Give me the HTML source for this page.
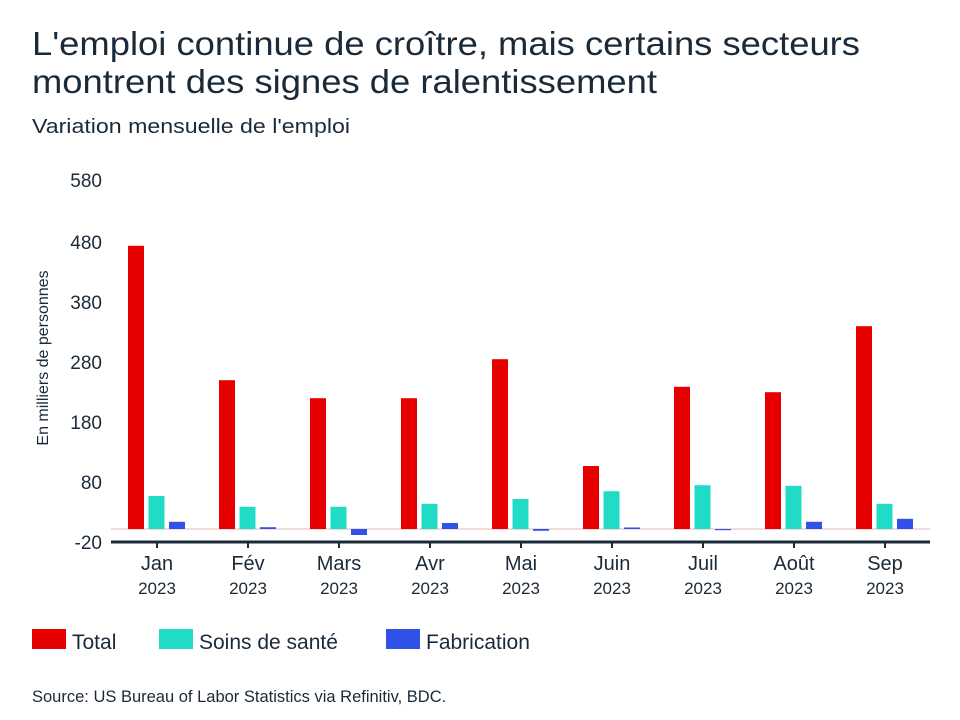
<!DOCTYPE html>
<html><head><meta charset="utf-8"><style>body{margin:0;background:#fff}svg{display:block}text{font-family:"Liberation Sans",sans-serif;fill:#1b2a38}</style></head>
<body>
<svg width="960" height="720" viewBox="0 0 960 720" xmlns="http://www.w3.org/2000/svg">
<text x="32" y="55" font-size="33" textLength="828" lengthAdjust="spacingAndGlyphs">L'emploi continue de croître, mais certains secteurs</text>
<text x="32" y="93" font-size="33" textLength="625" lengthAdjust="spacingAndGlyphs">montrent des signes de ralentissement</text>
<text x="32" y="133" font-size="20" textLength="318" lengthAdjust="spacingAndGlyphs">Variation mensuelle de l'emploi</text>
<g font-size="19" text-anchor="end">
<text x="102" y="187">580</text><text x="102" y="249">480</text><text x="102" y="309">380</text><text x="102" y="369">280</text><text x="102" y="429">180</text><text x="102" y="489">80</text><text x="102" y="549">-20</text>
</g>
<text transform="translate(48,358) rotate(-90)" font-size="16" text-anchor="middle">En milliers de personnes</text>
<line x1="111" y1="529" x2="930" y2="529" stroke="#e8d0d0" stroke-width="1.5"/>
<g fill="#e60000">
<rect x="128" y="245.8" width="16" height="283.2"/>
<rect x="219" y="380.2" width="16" height="148.8"/>
<rect x="310" y="398.2" width="16" height="130.8"/>
<rect x="401" y="398.2" width="16" height="130.8"/>
<rect x="492" y="359.2" width="16" height="169.8"/>
<rect x="583" y="466" width="16" height="63"/>
<rect x="674" y="386.8" width="16" height="142.2"/>
<rect x="765" y="392.2" width="16" height="136.8"/>
<rect x="856" y="326.2" width="16" height="202.8"/>
</g>
<g fill="#20dcc6">
<rect x="148.5" y="496" width="16" height="33"/>
<rect x="239.5" y="506.8" width="16" height="22.2"/>
<rect x="330.5" y="506.8" width="16" height="22.2"/>
<rect x="421.5" y="503.8" width="16" height="25.2"/>
<rect x="512.5" y="499" width="16" height="30"/>
<rect x="603.5" y="491.2" width="16" height="37.8"/>
<rect x="694.5" y="485.2" width="16" height="43.8"/>
<rect x="785.5" y="485.8" width="16" height="43.2"/>
<rect x="876.5" y="503.8" width="16" height="25.2"/>
</g>
<g fill="#3152e8">
<rect x="169" y="521.8" width="16" height="7.2"/>
<rect x="260" y="527.2" width="16" height="1.8"/>
<rect x="351" y="529" width="16" height="6"/>
<rect x="442" y="523" width="16" height="6"/>
<rect x="533" y="529" width="16" height="1.8"/>
<rect x="624" y="527.5" width="16" height="1.5"/>
<rect x="715" y="529" width="16" height="1.2"/>
<rect x="806" y="521.8" width="16" height="7.2"/>
<rect x="897" y="518.8" width="16" height="10.2"/>
</g>
<line x1="111" y1="542" x2="930" y2="542" stroke="#1b2a38" stroke-width="3"/>
<g stroke="#1b2a38" stroke-width="2">
<line x1="157" y1="542" x2="157" y2="548"/><line x1="248" y1="542" x2="248" y2="548"/><line x1="339" y1="542" x2="339" y2="548"/><line x1="430" y1="542" x2="430" y2="548"/><line x1="521" y1="542" x2="521" y2="548"/><line x1="612" y1="542" x2="612" y2="548"/><line x1="703" y1="542" x2="703" y2="548"/><line x1="794" y1="542" x2="794" y2="548"/><line x1="885" y1="542" x2="885" y2="548"/>
</g>
<g text-anchor="middle" font-size="20">
<text x="157" y="570">Jan</text><text x="248" y="570">Fév</text><text x="339" y="570">Mars</text><text x="430" y="570">Avr</text><text x="521" y="570">Mai</text><text x="612" y="570">Juin</text><text x="703" y="570">Juil</text><text x="794" y="570">Août</text><text x="885" y="570">Sep</text>
</g>
<g text-anchor="middle" font-size="17">
<text x="157" y="594">2023</text><text x="248" y="594">2023</text><text x="339" y="594">2023</text><text x="430" y="594">2023</text><text x="521" y="594">2023</text><text x="612" y="594">2023</text><text x="703" y="594">2023</text><text x="794" y="594">2023</text><text x="885" y="594">2023</text>
</g>
<rect x="32" y="629" width="34" height="20" fill="#e60000"/>
<text x="72" y="649" font-size="21">Total</text>
<rect x="159" y="629" width="34" height="20" fill="#20dcc6"/>
<text x="199" y="649" font-size="21">Soins de santé</text>
<rect x="386" y="629" width="34" height="20" fill="#3152e8"/>
<text x="426" y="649" font-size="21">Fabrication</text>
<text x="32" y="702" font-size="16.5">Source: US Bureau of Labor Statistics via Refinitiv, BDC.</text>
</svg>
</body></html>
